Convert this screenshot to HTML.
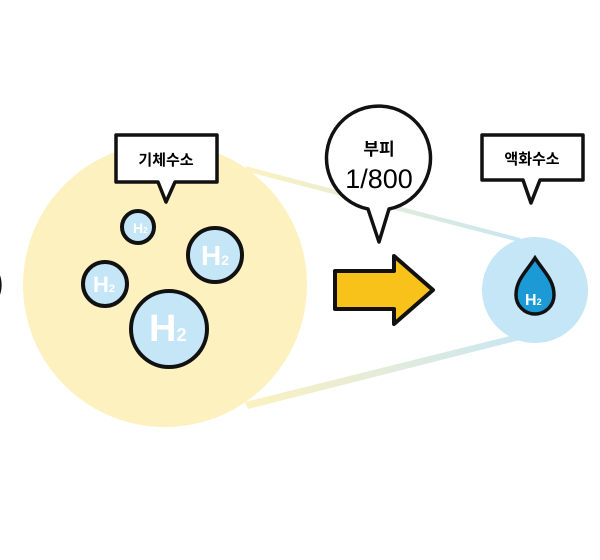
<!DOCTYPE html>
<html><head><meta charset="utf-8"><style>
html,body{margin:0;padding:0;background:#fff;}
svg{display:block}
text{font-family:"Liberation Sans","Noto Sans CJK KR",sans-serif;}
</style></head><body>
<svg width="600" height="560" viewBox="0 0 600 560">
<defs>
<linearGradient id="g" x1="0" x2="1" y1="0" y2="0">
<stop offset="0" stop-color="#fdf1c0"/><stop offset="1" stop-color="#c8e6f3"/>
</linearGradient>
</defs>
<polygon points="245,166 520,238 523,243 248,172" fill="url(#g)"/>
<polygon points="245,402 522,333 524,339 248,409" fill="url(#g)"/>
<circle cx="165" cy="285" r="142" fill="#fdf1c0"/>
<circle cx="535" cy="290" r="53" fill="#c4e6f6"/>
<path d="M-10,266 A14,20 0 0 1 -10,304" fill="none" stroke="#111" stroke-width="4"/>
<g stroke="#111" stroke-width="4" fill="#c4e6f6">
<circle cx="138" cy="227" r="16"/>
<circle cx="215" cy="255" r="27"/>
<circle cx="105" cy="284" r="22"/>
<circle cx="169" cy="329" r="38"/>
</g>
<g fill="#fff" font-weight="bold">
<text x="133" y="233" font-size="14">H<tspan font-size="8">2</tspan></text>
<text x="201" y="265" font-size="28">H<tspan font-size="14">2</tspan></text>
<text x="93" y="292" font-size="22">H<tspan font-size="11">2</tspan></text>
<text x="149" y="341" font-size="38">H<tspan font-size="18">2</tspan></text>
</g>
<path d="M116,135 H217 V182 H175 L166,202 L158,182 H116 Z" fill="#fff" stroke="#111" stroke-width="3.5" stroke-linejoin="round"/>
<text x="166" y="165" font-size="15" text-anchor="middle" font-weight="bold">기체수소</text>
<path d="M482,135 H583 V180 H540 L531,203 L523,180 H482 Z" fill="#fff" stroke="#111" stroke-width="3.5" stroke-linejoin="round"/>
<text x="532" y="164" font-size="15" text-anchor="middle" font-weight="bold">액화수소</text>
<path d="M368,209 A52,52 0 1 1 389,209 L379,242 Z" fill="#fff" stroke="#111" stroke-width="3.5" stroke-linejoin="round"/>
<text x="379" y="155" font-size="17" text-anchor="middle" font-weight="bold">부피</text>
<text x="379" y="188" font-size="27" text-anchor="middle">1/800</text>
<path d="M335,271 H394 V256 L433,290 L394,324 V309 H335 Z" fill="#f8c21a" stroke="#111" stroke-width="4" stroke-linejoin="round"/>
<path d="M535,258 C544,272 554,280 554,295 A19,19 0 0 1 516,295 C516,280 526,272 535,258 Z" fill="#1b9ad6" stroke="#111" stroke-width="3.5"/>
<text x="525" y="305" font-size="16" fill="#fff" font-weight="bold">H<tspan font-size="9">2</tspan></text>
</svg>
</body></html>
